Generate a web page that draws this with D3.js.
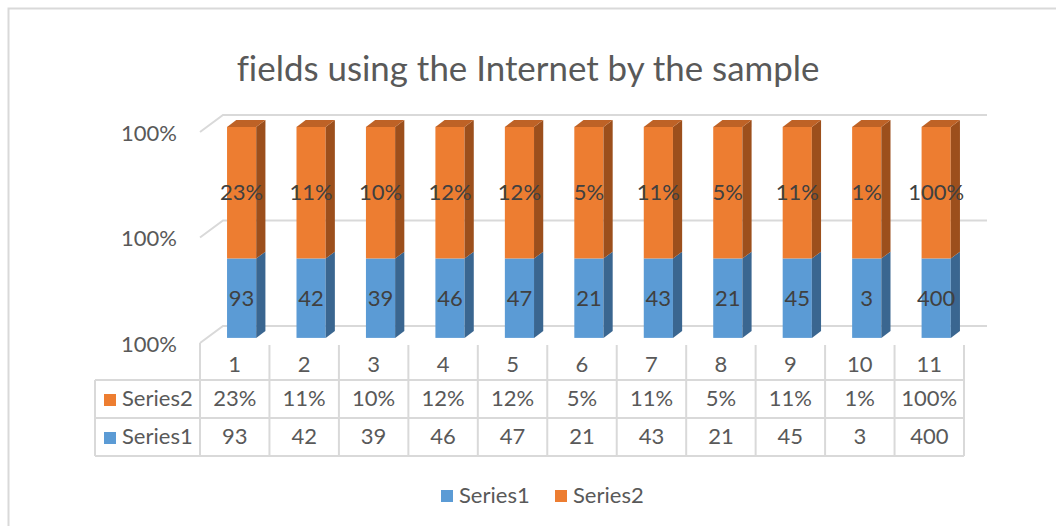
<!DOCTYPE html>
<html>
<head>
<meta charset="utf-8">
<script src="https://cdn.jsdelivr.net/npm/d3@7"></script>
<style>
  body { margin: 0; background: #fff; }
  text { font-family: Lato, "Open Sans", sans-serif; font-variant-ligatures: none; }
</style>
</head>
<body>
<svg id="chart" width="1056" height="526"></svg>
<script>
// ---- data ----
const chartTitle = "fields using the Internet by the sample";
const categories = ["1", "2", "3", "4", "5", "6", "7", "8", "9", "10", "11"];
const seriesNames = ["Series1", "Series2"];
const series1 = [93, 42, 39, 46, 47, 21, 43, 21, 45, 3, 400];
const series2 = [0.2325, 0.105, 0.0975, 0.115, 0.1175, 0.0525, 0.1075, 0.0525, 0.1125, 0.0075, 1.00];
const axisTicks = [0.996, 0.998, 1.0];
const axisDomain = [0.996, 1.0];

// ---- styling ----
const colors = {
  Series1: { front: "#5B9BD5", side: "#3A6690", top: "#4A83B8" },
  Series2: { front: "#ED7D31", side: "#9C4F1C", top: "#BE6226" }
};
const gridColor = "#D9D9D9";
const textColor = "#595959";
const labelColor = "#404040";

const svg = d3.select("#chart");

// chart area border
svg.append("rect")
  .attr("x", 8.5).attr("y", 8.5)
  .attr("width", 2000).attr("height", 2000)
  .attr("fill", "none").attr("stroke", gridColor).attr("stroke-width", 2);

// ---- plot geometry (oblique 3D projection) ----
const plot = { left: 200, right: 964, bottom: 343, top: 132 };
const depth = { dx: 23, dy: -17 };          // offset from front plane to back wall
const barDepth = [0.3, 0.7];                // bar occupies this slice of the depth
const barWidthFrac = 0.42;

const x = d3.scaleBand().domain(categories).range([plot.left, plot.right]).padding(0);
const y = d3.scaleLinear().domain(axisDomain).range([plot.bottom, plot.top]);
const clampV = v => Math.max(axisDomain[0], Math.min(axisDomain[1], v));
const proj = (px, v, t) => [px + depth.dx * t, y(clampV(v)) + depth.dy * t];

// gridlines: left side wall diagonal + back wall line
const grid = svg.append("g").attr("stroke", gridColor).attr("stroke-width", 2).attr("fill", "none");
axisTicks.forEach(v => {
  const a = proj(plot.left, v, 0), b = proj(plot.left, v, 1), c = proj(plot.right, v, 1);
  grid.append("path").attr("d", `M${a}L${b}L${c}`);
});

// value axis labels
svg.append("g").selectAll("text").data(axisTicks).join("text")
  .attr("x", plot.left - 23)
  .attr("y", d => y(d) + 3)
  .attr("text-anchor", "end")
  .attr("dominant-baseline", "middle")
  .attr("font-size", 22)
  .attr("fill", textColor)
  .text(d => d3.format(".0%")(d));

// ---- stacked (100%) 3D columns ----
const rows = categories.map((c, i) => ({ cat: c, Series1: series1[i], Series2: series2[i] }));
const stacked = d3.stack().keys(seriesNames).offset(d3.stackOffsetExpand)(rows);

const bars = svg.append("g");
stacked.forEach((layer, li) => {
  const key = layer.key;
  const isTop = li === stacked.length - 1;
  layer.forEach((seg, i) => {
    const bw = x.bandwidth() * barWidthFrac;
    const xl = x(categories[i]) + (x.bandwidth() - bw) / 2;
    const xr = xl + bw;
    const [t0, t1] = barDepth;
    const v0 = seg[0], v1 = seg[1];
    const g = bars.append("g");
    // front
    const fl0 = proj(xl, v0, t0), fr1 = proj(xr, v1, t0);
    g.append("rect")
      .attr("x", fl0[0]).attr("y", fr1[1])
      .attr("width", fr1[0] - fl0[0]).attr("height", fl0[1] - fr1[1])
      .attr("fill", colors[key].front);
    // right side
    const s = [proj(xr, v0, t0), proj(xr, v1, t0), proj(xr, v1, t1), proj(xr, v0, t1)];
    g.append("path").attr("d", "M" + s.join("L") + "Z").attr("fill", colors[key].side);
    // top
    if (isTop) {
      const tp = [proj(xl, v1, t0), proj(xr, v1, t0), proj(xr, v1, t1), proj(xl, v1, t1)];
      g.append("path").attr("d", "M" + tp.join("L") + "Z").attr("fill", colors[key].top);
    }
    // data label, centred on the front face
    const raw = seg.data[key];
    g.append("text")
      .attr("x", (fl0[0] + fr1[0]) / 2)
      .attr("y", (fl0[1] + fr1[1]) / 2 + 2)
      .attr("text-anchor", "middle")
      .attr("dominant-baseline", "middle")
      .attr("font-size", 22)
      .attr("fill", labelColor)
      .text(key === "Series2" ? Math.round(raw * 100 + 1e-9) + "%" : d3.format("d")(raw));
  });
});

// ---- data table ----
const table = { left: 95, header: plot.bottom, rowTops: [380, 418, 456] };
const tg = svg.append("g").attr("stroke", gridColor).attr("stroke-width", 2).attr("fill", "none");
table.rowTops.forEach(ry => tg.append("line")
  .attr("x1", table.left).attr("x2", plot.right).attr("y1", ry).attr("y2", ry));
tg.append("line").attr("x1", table.left).attr("x2", table.left)
  .attr("y1", table.rowTops[0]).attr("y2", table.rowTops[2]);
categories.concat([null]).forEach((c, i) => {
  const bx = c === null ? plot.right : x(c);
  tg.append("line").attr("x1", bx).attr("x2", bx)
    .attr("y1", i === 0 ? plot.bottom : plot.bottom + 2).attr("y2", table.rowTops[2]);
});

const tt = svg.append("g").attr("font-size", 22).attr("fill", textColor)
  .attr("text-anchor", "middle").attr("dominant-baseline", "middle");
categories.forEach(c => tt.append("text")
  .attr("x", x(c) + x.bandwidth() / 2).attr("y", 366).text(c));

const tableRows = [
  { key: "Series2", values: series2.map(v => Math.round(v * 100 + 1e-9) + "%") },
  { key: "Series1", values: series1.map(v => d3.format("d")(v)) }
];
tableRows.forEach((r, ri) => {
  const cy = (table.rowTops[ri] + table.rowTops[ri + 1]) / 2 + 1;
  r.values.forEach((v, i) => tt.append("text")
    .attr("x", x(categories[i]) + x.bandwidth() / 2).attr("y", cy).text(v));
  svg.append("rect").attr("x", 104).attr("y", cy - 6).attr("width", 12).attr("height", 12)
    .attr("fill", colors[r.key].front);
  svg.append("text").attr("x", 122).attr("y", cy)
    .attr("dominant-baseline", "middle").attr("font-size", 22).attr("fill", textColor)
    .text(r.key);
});

// ---- legend ----
const legend = svg.append("g");
const legendX = [441, 555];
seriesNames.forEach((n, i) => {
  legend.append("rect").attr("x", legendX[i]).attr("y", 490).attr("width", 12).attr("height", 12)
    .attr("fill", colors[n].front);
  legend.append("text").attr("x", legendX[i] + 18).attr("y", 497)
    .attr("dominant-baseline", "middle").attr("font-size", 22).attr("fill", textColor).text(n);
});

// ---- title, sized to span its slot ----
const titleText = svg.append("text")
  .attr("x", 528).attr("y", 81)
  .attr("text-anchor", "middle")
  .attr("font-size", 32).attr("fill", textColor)
  .text(chartTitle);
const tw = titleText.node().getComputedTextLength();
titleText.attr("font-size", 32 * 583 / tw);
</script>
</body>
</html>
